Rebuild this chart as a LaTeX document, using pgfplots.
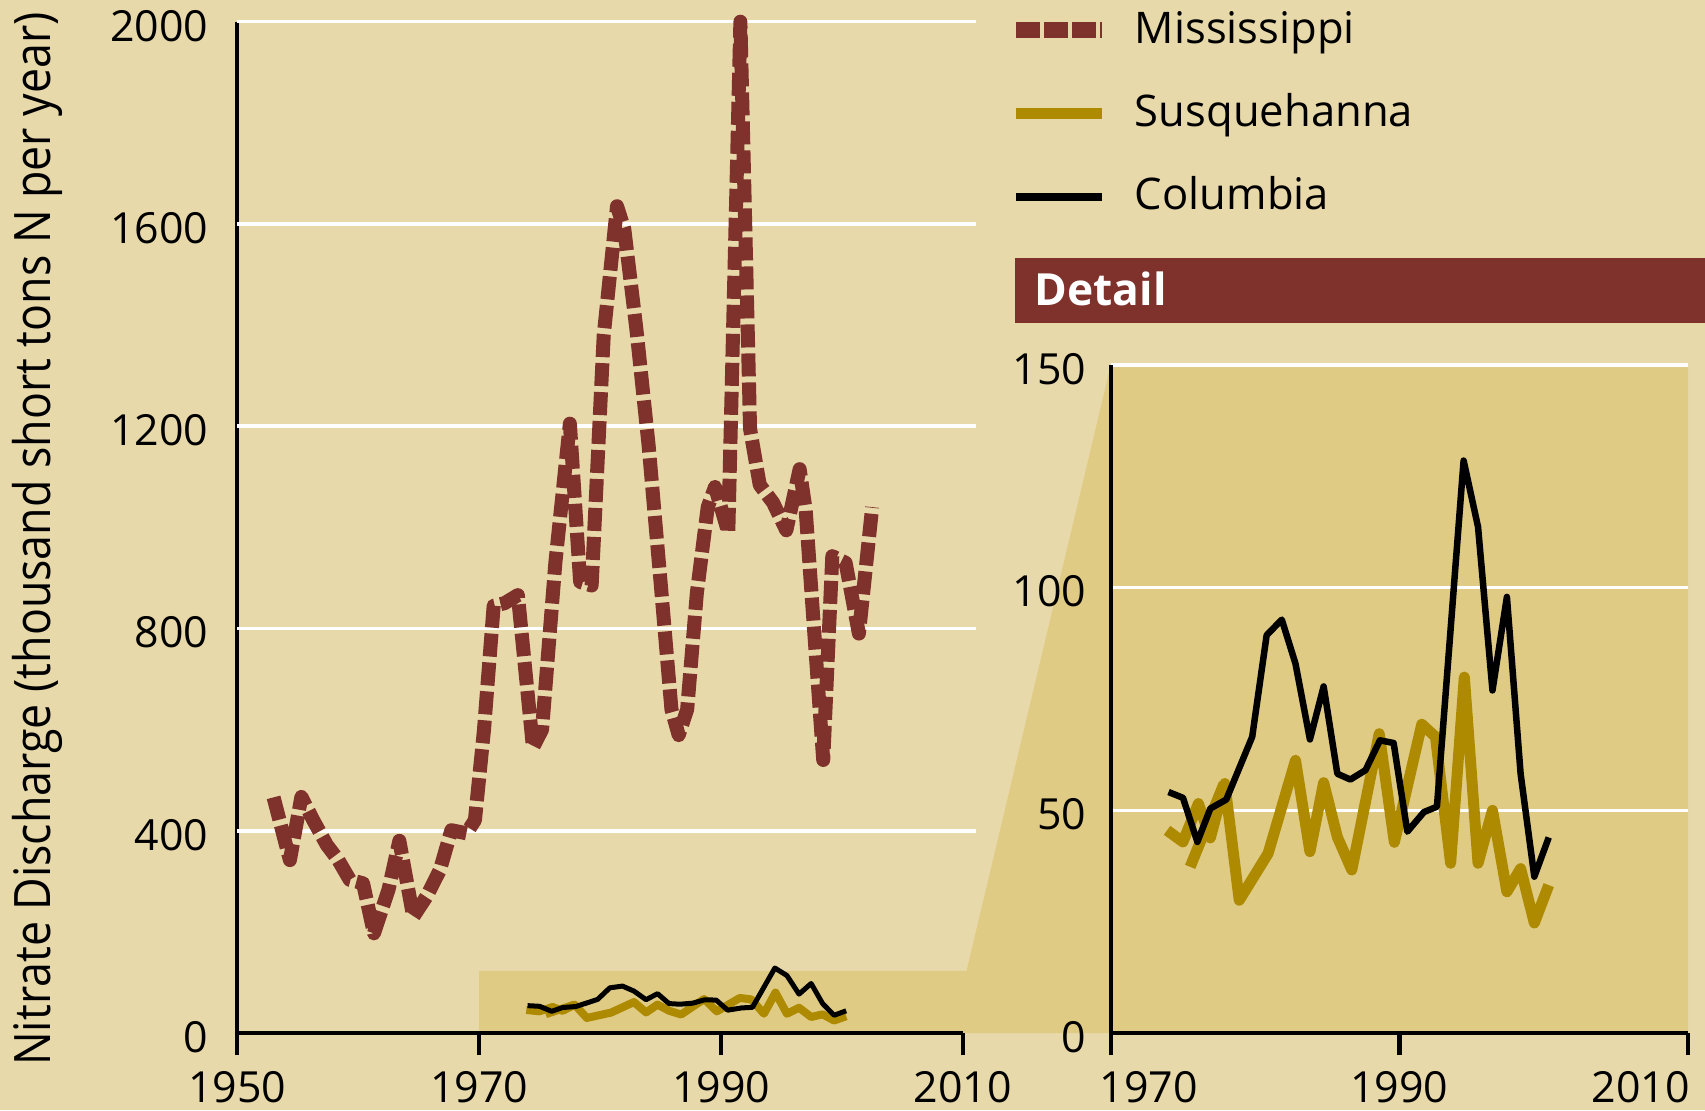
\documentclass[border=0pt]{standalone}
\usepackage{pgfplots}
\pgfplotsset{compat=1.18}
\usepackage{pgfplotstable}
\usepackage{graphicx}
\usepackage{fontspec}
\setmainfont{Open Sans}
\definecolor{bgbeige}{RGB}{232,217,171}
\definecolor{goldfill}{RGB}{224,203,133}
\definecolor{missred}{RGB}{127,49,43}
\definecolor{susgold}{RGB}{173,138,0}
\pgfdeclarelayer{bg}
\pgfsetlayers{bg,main}

\pgfplotstableread{
year val
1953.0 466
1954.35 342
1955.3 467
1956.3 420
1957.4 372
1958.35 342
1959.3 303
1960.4 296
1961.3 197
1962.5 283
1963.4 380
1964.55 230
1965.65 270
1966.75 322
1967.7 401
1968.95 395
1969.65 421
1970.4 600
1971.2 845
1972.1 850
1973.2 866
1974.45 565
1975.2 600
1976.3 930
1977.5 1205
1978.35 892
1979.3 885
1980.3 1380
1981.4 1635
1982.0 1590
1983.0 1392
1984.0 1165
1985.0 892
1985.9 640
1986.5 589
1987.2 640
1988.0 870
1988.9 1040
1989.5 1080
1990.6 990
1991.6 2000
1992.4 1195
1993.2 1084
1994.3 1049
1995.4 994
1996.5 1115
1997.0 1034
1998.45 540
1999.2 943
2000.3 930
2001.4 790
2002.5 1040
}\miss

\pgfplotstableread{
year val
1973.9 45.5
1975.0 42.9
1976.07 51.5
1976.9 43.8
1977.9 56.0
1978.9 29.8
1980.9 40.3
1982.8 61.2
1983.8 40.7
1984.75 56.2
1985.7 44.0
1986.7 36.6
1988.6 67.2
1989.65 42.8
1991.55 69.3
1992.5 66.5
1993.55 38.1
1994.5 79.9
1995.45 38.1
1996.45 50.0
1997.45 31.7
1998.4 36.9
1999.35 24.7
2000.35 33.2
}\susq

\pgfplotstableread{
year val
1975.5 37.3
1977.85 56.0
}\susqb

\pgfplotstableread{
year val
1974.0 54.1
1975.0 52.8
1976.0 42.9
1976.9 50.4
1978.0 52.4
1979.8 66.5
1980.8 89.3
1981.85 92.8
1982.8 82.9
1983.8 65.9
1984.75 77.8
1985.7 58.2
1986.6 56.9
1987.65 59.0
1988.65 65.7
1989.6 65.1
1990.55 45.2
1991.7 49.6
1992.6 50.8
1994.45 128.5
1995.45 113.6
1996.45 76.9
1997.45 97.9
1998.4 58.2
1999.35 35.1
2000.35 43.9
}\colu

\pgfplotsset{
  common/.style={
    scale only axis,
    anchor=south west,
    axis lines*=left,
    axis line style={-, black, line width=1.2pt},
    tick align=outside,
    major tick length=2.2mm,
    xtick style={black, line width=1.2pt},
    ytick style={draw=none},
    tick label style={font=\fontsize{12.2}{14}\selectfont},
    /pgf/number format/assume math mode=true,
    /pgf/number format/1000 sep={},
    xticklabel style={anchor=north, inner sep=0pt, yshift=-1.6mm},
    yticklabel style={anchor=east, inner sep=0pt, yshift=-0.4mm},
  }
}

\begin{document}
\fontsize{12.4}{14}\selectfont
\begin{tikzpicture}
\useasboundingbox (0,0) rectangle (170.5mm,111mm);

\begin{axis}[common,
  at={(23.73mm,7.7mm)},
  width=72.56mm, height=101.13mm,
  xmin=1950, xmax=2010, ymin=0, ymax=2000,
  clip=false,
  xtick={1950,1970,1990,2010},
  xticklabels={1950,1970,1990,2010},
  ytick={0,400,800,1200,1600,2000},
  yticklabel style={xshift=-0.63mm},
  ylabel={\scalebox{0.89}[1]{\fontsize{14.3}{16}\selectfont Nitrate Discharge (thousand short tons N per year)}},
  every axis y label/.style={at={(axis description cs:-0.276,0.4885)}, rotate=90, anchor=center, inner sep=0pt},
  legend cell align=left,
  legend style={at={(axis description cs:1.062,1.0123)}, anchor=north west,
    draw=none, fill=none, inner sep=0pt, outer sep=0pt,
    row sep=3.93mm, column sep=0pt,
    nodes={inner sep=0pt, text height=3.4mm, text depth=1.0mm, anchor=base west},
    font=\fontsize{12.4}{14}\selectfont},
]
\coordinate (m0) at (axis cs:1970,0);
\coordinate (m1) at (axis cs:1970,123);
\coordinate (m2) at (axis cs:2010.3,123);
\pgfplotsinvokeforeach{400,800,1200,1600,2000}{
  \draw[white, line width=1pt] (axis cs:1950,#1) -- (axis cs:2011.1,#1);
}
\addplot[missred, line width=1.4mm, line join=round, dash pattern=on 2.3mm off 0.6mm, forget plot] table[x=year,y=val] {\miss};
\addplot[susgold, line width=0.8mm, line join=round, forget plot] table[x=year,y=val] {\susq};
\addplot[susgold, line width=0.8mm, forget plot] table[x=year,y=val] {\susqb};
\addplot[black, line width=0.5mm, line join=round, forget plot] table[x=year,y=val] {\colu};

\addlegendimage{legend image code/.code={\draw[missred, line width=1.6mm, dash pattern=on 2.4mm off 0.4mm] (0mm,1.3mm) -- (8.6mm,1.3mm); \path (0mm,0mm) (11.83mm,0mm);}}
\addlegendentry{Mississippi}
\addlegendimage{legend image code/.code={\draw[susgold, line width=1.15mm] (0mm,1.3mm) -- (8.6mm,1.3mm); \path (0mm,0mm) (11.83mm,0mm);}}
\addlegendentry{Susquehanna}
\addlegendimage{legend image code/.code={\draw[black, line width=0.8mm] (0mm,1.3mm) -- (8.6mm,1.3mm); \path (0mm,0mm) (11.83mm,0mm);}}
\addlegendentry{Columbia}
\end{axis}

\begin{axis}[common,
  at={(111.08mm,7.7mm)},
  width=57.72mm, height=66.82mm,
  xmin=1970, xmax=2010, ymin=0, ymax=150,
  xtick={1970,1990,2010},
  xticklabels={\makebox[0pt][l]{\kern-1.1mm 1970},1990,\makebox[0pt][r]{2010\kern-0.2mm}},
  ytick={0,50,100,150},
  yticklabel style={xshift=-0.18mm},
  ymajorgrids,
  grid style={white, line width=1pt},
]
\coordinate (d1) at (axis cs:1970,150);
\coordinate (d2) at (axis cs:2010,150);
\coordinate (d3) at (axis cs:2010,0);
\addplot[susgold, line width=1.1mm, line join=round] table[x=year,y=val] {\susq};
\addplot[susgold, line width=1.1mm] table[x=year,y=val] {\susqb};
\addplot[black, line width=0.65mm, line join=round] table[x=year,y=val] {\colu};
\end{axis}

\fill[missred] (101.48mm,78.73mm) rectangle (170.5mm,85.23mm);
\node[anchor=base west, inner sep=0pt, text=white, font=\fontsize{12.6}{14}\selectfont\bfseries] at (103.4mm,80.5mm) {Detail};

\begin{pgfonlayer}{bg}
\fill[bgbeige] (0,0) rectangle (170.5mm,111mm);
\fill[goldfill] (m0) -- (m1) -- (m2) -- (d1) -- (d2) -- (d3) -- cycle;
\end{pgfonlayer}
\end{tikzpicture}
\end{document}
